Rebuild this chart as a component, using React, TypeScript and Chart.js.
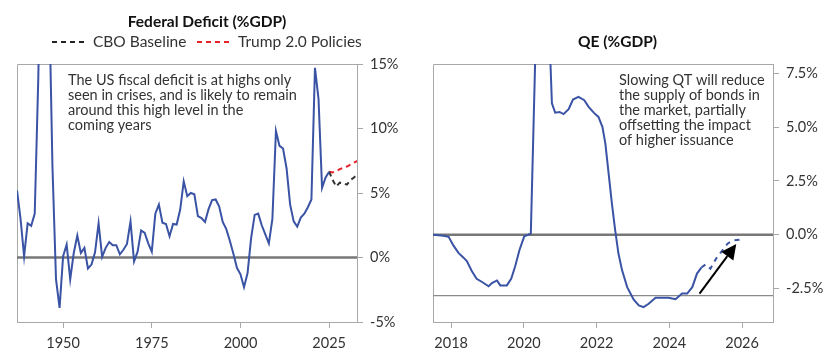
import React, { useEffect, useRef } from "react";
import { Chart, registerables } from "chart.js";

Chart.register(...registerables);

const FONT = "Lato, 'Noto Sans', sans-serif";
const BLUE = "#3a53a4";
const FRAME = "#a8a8a8";
const TEXT = "#333333";

// ---------------- Federal Deficit (%GDP) ----------------
const deficitYears: number[] = [];
for (let y = 1937; y <= 2025; y++) deficitYears.push(y);
const deficitValues = [
  5.2, 3.0, 0.1, 2.65, 2.45, 3.4, 13.9, 29.6, 22.2, 21.0, // 1937-1946
  7.0, -1.7, -3.9, 0.1, 1.0, -1.7, 0.35, 1.7, 0.35, 0.75, // 1947-1956
  -0.85, -0.55, 0.4, 2.65, 0.05, 0.75, 1.2, 0.95, 0.95, 0.25, // 1957-1966
  0.6, 1.05, 2.8, -0.3, 0.45, 2.1, 1.9, 1.1, 0.45, 3.4, // 1967-1976
  4.1, 2.7, 2.6, 1.65, 2.6, 2.55, 3.7, 5.9, 4.75, 5.0, // 1977-1986
  4.9, 3.2, 3.05, 2.75, 3.75, 4.45, 4.5, 3.95, 2.75, 2.2, // 1987-1996
  1.3, 0.3, -0.8, -1.3, -2.3, -1.2, 1.5, 3.3, 3.4, 2.5, // 1997-2006
  1.8, 1.1, 3.0, 9.8, 8.65, 8.45, 6.9, 4.1, 2.8, 2.4, // 2007-2016
  3.1, 3.4, 3.9, 4.5, 14.7, 12.3, 5.4, 6.2, 6.65, // 2017-2025
];
const projectionYears = [2025, 2026, 2027, 2028, 2029, 2030, 2031, 2032, 2033];
const cboBaseline = [6.65, 6.0, 5.5, 5.8, 5.75, 5.65, 6.0, 6.2, 6.5];
const trumpPolicies = [6.65, 6.6, 6.7, 6.85, 6.95, 7.05, 7.2, 7.35, 7.5];
const deficitTickValuesY = [-5, 0, 5, 10, 15];
const deficitTickValuesX = [1950, 1975, 2000, 2025];
const deficitNote = [
  "The US fiscal deficit is at highs only",
  "seen in crises, and is likely to remain",
  "around this high level in the",
  "coming years",
];

// ---------------- QE (%GDP) ----------------
const qeDates = [
  2017.5, 2017.79, 2017.93, 2018.06, 2018.2, 2018.34, 2018.43, 2018.57, 2018.7, 2018.85,
  2019.03, 2019.12, 2019.26, 2019.35, 2019.53, 2019.65, 2019.76, 2019.88, 2020.01, 2020.19,
  2020.42, 2020.6, 2020.77, 2020.86, 2020.98, 2021.09, 2021.23, 2021.35, 2021.5, 2021.66,
  2021.78, 2021.92, 2022.05, 2022.16, 2022.24, 2022.33, 2022.42, 2022.51, 2022.6, 2022.7,
  2022.84, 2023.02, 2023.16, 2023.29, 2023.43, 2023.62, 2023.8, 2023.98, 2024.17, 2024.35,
  2024.49, 2024.63, 2024.76, 2024.88,
];
const qeValues = [
  0.0, -0.05, -0.1, -0.5, -0.85, -1.07, -1.23, -1.7, -2.05, -2.2,
  -2.4, -2.25, -2.13, -2.36, -2.36, -2.05, -1.47, -0.7, -0.08, 0.05,
  15.5, 14.0, 6.1, 5.67, 5.7, 5.6, 5.83, 6.28, 6.4, 6.25,
  5.94, 5.67, 5.47, 5.0, 4.23, 2.84, 1.44, 0.2, -0.88, -1.66,
  -2.44, -3.02, -3.29, -3.37, -3.21, -2.93, -2.93, -2.93, -3.0, -2.74,
  -2.74, -2.44, -1.81, -1.53,
];
const qeProjDates = [2024.88, 2025.0, 2025.13, 2025.31, 2025.45, 2025.6, 2025.75, 2026.0];
const qeProjValues = [-1.53, -1.38, -1.58, -1.04, -0.75, -0.42, -0.27, -0.22];
const qeTickValuesY = [-2.5, 0, 2.5, 5, 7.5];
const qeTickValuesX = [2018, 2020, 2022, 2024, 2026];
const qeQtLevel = -2.83;
const qeArrowFrom: [number, number] = [2024.83, -2.74];
const qeArrowTo: [number, number] = [2025.84, -0.44];
const qeNote = [
  "Slowing QT will reduce",
  "the supply of bonds in",
  "the market, partially",
  "offsetting the impact",
  "of higher issuance",
];

type Decor = {
  title: string;
  titleX: number;
  titleY: number;
  legend?: { label: string; color: string; x: number }[];
  legendY?: number;
  notes: string[];
  noteX: number;
  noteY: number;
  refLines: { value: number; width: number; color: string }[];
  arrow?: { from: [number, number]; to: [number, number] };
};

function makeDecor(d: Decor) {
  return {
    id: "decor",
    beforeDatasetsDraw(chart: any) {
      const { ctx, chartArea: a, scales } = chart;
      ctx.save();
      ctx.strokeStyle = FRAME;
      ctx.lineWidth = 1;
      ctx.beginPath();
      ctx.moveTo(a.left + 0.5, a.bottom);
      ctx.lineTo(a.left + 0.5, a.top + 0.5);
      ctx.lineTo(a.right, a.top + 0.5);
      ctx.stroke();
      for (const r of d.refLines) {
        const py = scales.y.getPixelForValue(r.value);
        ctx.strokeStyle = r.color;
        ctx.lineWidth = r.width;
        ctx.beginPath();
        ctx.moveTo(a.left, py);
        ctx.lineTo(a.right, py);
        ctx.stroke();
      }
      ctx.restore();
    },
    afterDatasetsDraw(chart: any) {
      if (!d.arrow) return;
      const { ctx, scales } = chart;
      const x1 = scales.x.getPixelForValue(d.arrow.from[0]);
      const y1 = scales.y.getPixelForValue(d.arrow.from[1]);
      const x2 = scales.x.getPixelForValue(d.arrow.to[0]);
      const y2 = scales.y.getPixelForValue(d.arrow.to[1]);
      const ang = Math.atan2(y2 - y1, x2 - x1);
      const head = 15;
      const half = 7.5;
      const bx = x2 - head * Math.cos(ang);
      const by = y2 - head * Math.sin(ang);
      ctx.save();
      ctx.strokeStyle = "#000";
      ctx.fillStyle = "#000";
      ctx.lineWidth = 2;
      ctx.beginPath();
      ctx.moveTo(x1, y1);
      ctx.lineTo(bx, by);
      ctx.stroke();
      ctx.beginPath();
      ctx.moveTo(x2, y2);
      ctx.lineTo(bx + half * Math.sin(ang), by - half * Math.cos(ang));
      ctx.lineTo(bx - half * Math.sin(ang), by + half * Math.cos(ang));
      ctx.closePath();
      ctx.fill();
      ctx.restore();
    },
    afterDraw(chart: any) {
      const { ctx } = chart;
      ctx.save();
      ctx.textBaseline = "middle";
      ctx.fillStyle = "#111";
      ctx.font = `bold 15.5px ${FONT}`;
      ctx.textAlign = "center";
      ctx.fillText(d.title, d.titleX, d.titleY);
      if (d.legend) {
        ctx.font = `15.5px ${FONT}`;
        ctx.textAlign = "left";
        for (const item of d.legend) {
          ctx.strokeStyle = item.color;
          ctx.lineWidth = 2;
          ctx.setLineDash([5, 4]);
          ctx.beginPath();
          ctx.moveTo(item.x, d.legendY as number);
          ctx.lineTo(item.x + 35, d.legendY as number);
          ctx.stroke();
          ctx.setLineDash([]);
          ctx.fillStyle = TEXT;
          ctx.fillText(item.label, item.x + 41, d.legendY as number);
        }
      }
      ctx.font = `14.5px ${FONT}`;
      ctx.textAlign = "left";
      ctx.fillStyle = TEXT;
      d.notes.forEach((line, i) => ctx.fillText(line, d.noteX, d.noteY + i * 15));
      ctx.restore();
    },
  };
}

function axisCommon(tickVals: number[], fmt: (v: number) => string) {
  return {
    grid: { drawOnChartArea: false, color: FRAME, tickColor: FRAME, tickLength: 6 },
    border: { display: true, color: FRAME, width: 1 },
    ticks: {
      color: TEXT,
      font: { family: FONT, size: 14.5 },
      padding: 7,
      autoSkip: false,
      maxRotation: 0,
      callback: (v: any) => fmt(Number(v)),
    },
    afterBuildTicks: (scale: any) => {
      scale.ticks = tickVals.map((v) => ({ value: v }));
    },
  };
}

function deficitConfig(): any {
  return {
    type: "line",
    data: {
      datasets: [
        {
          label: "Federal deficit",
          data: deficitYears.map((x, i) => ({ x, y: deficitValues[i] })),
          borderColor: BLUE,
          borderWidth: 2,
          pointRadius: 0,
          tension: 0,
        },
        {
          label: "CBO Baseline",
          data: projectionYears.map((x, i) => ({ x, y: cboBaseline[i] })),
          borderColor: "#333333",
          borderWidth: 2,
          borderDash: [5, 4],
          pointRadius: 0,
        },
        {
          label: "Trump 2.0 Policies",
          data: projectionYears.map((x, i) => ({ x, y: trumpPolicies[i] })),
          borderColor: "#e8212b",
          borderWidth: 2,
          borderDash: [5, 4],
          pointRadius: 0,
        },
      ],
    },
    options: {
      responsive: false,
      animation: false,
      devicePixelRatio: 1,
      layout: { padding: { left: 17, top: 64, right: 0, bottom: 0 } },
      plugins: { legend: { display: false }, tooltip: { enabled: false }, title: { display: false } },
      scales: {
        x: {
          type: "linear",
          min: 1937,
          max: 2032.85,
          ...axisCommon(deficitTickValuesX, (v) => String(v)),
          afterFit: (s: any) => {
            s.height = 40;
          },
        },
        y: {
          type: "linear",
          position: "right",
          min: -5,
          max: 15,
          ...axisCommon(deficitTickValuesY, (v) => `${v}%`),
          afterFit: (s: any) => {
            s.width = 63;
          },
        },
      },
    },
    plugins: [
      makeDecor({
        title: "Federal Deficit (%GDP)",
        titleX: 207,
        titleY: 22,
        legend: [
          { label: "CBO Baseline", color: "#222222", x: 52 },
          { label: "Trump 2.0 Policies", color: "#e8212b", x: 197 },
        ],
        legendY: 42,
        notes: deficitNote,
        noteX: 68,
        noteY: 80,
        refLines: [{ value: 0, width: 2.5, color: "#777777" }],
      }),
    ],
  };
}

function qeConfig(): any {
  return {
    type: "line",
    data: {
      datasets: [
        {
          label: "QE",
          data: qeDates.map((x, i) => ({ x, y: qeValues[i] })),
          borderColor: BLUE,
          borderWidth: 2,
          pointRadius: 0,
          tension: 0,
        },
        {
          label: "QE projection",
          data: qeProjDates.map((x, i) => ({ x, y: qeProjValues[i] })),
          borderColor: BLUE,
          borderWidth: 2,
          borderDash: [5, 5],
          pointRadius: 0,
        },
      ],
    },
    options: {
      responsive: false,
      animation: false,
      devicePixelRatio: 1,
      layout: { padding: { left: 13, top: 64, right: 0, bottom: 0 } },
      plugins: { legend: { display: false }, tooltip: { enabled: false }, title: { display: false } },
      scales: {
        x: {
          type: "linear",
          min: 2017.5,
          max: 2026.85,
          ...axisCommon(qeTickValuesX, (v) => String(v)),
          afterFit: (s: any) => {
            s.height = 40;
          },
        },
        y: {
          type: "linear",
          position: "right",
          min: -4.06,
          max: 7.93,
          ...axisCommon(qeTickValuesY, (v) => `${v.toFixed(1)}%`),
          afterFit: (s: any) => {
            s.width = 67;
          },
        },
      },
    },
    plugins: [
      makeDecor({
        title: "QE (%GDP)",
        titleX: 197.5,
        titleY: 42,
        notes: qeNote,
        noteX: 199,
        noteY: 80,
        refLines: [
          { value: 0, width: 2.5, color: "#777777" },
          { value: qeQtLevel, width: 1.2, color: "#8a8a8a" },
        ],
        arrow: { from: qeArrowFrom, to: qeArrowTo },
      }),
    ],
  };
}

function ChartBox({ make, left }: { make: () => any; left: number }) {
  const ref = useRef<HTMLCanvasElement | null>(null);
  useEffect(() => {
    const chart = new Chart(ref.current as HTMLCanvasElement, make());
    return () => chart.destroy();
  }, []);
  return (
    <canvas
      ref={ref}
      width={420}
      height={362}
      style={{ position: "absolute", left, top: 0, width: 420, height: 362, display: "block" }}
    />
  );
}

export default function App() {
  return (
    <div style={{ position: "fixed", left: 0, top: 0, width: 840, height: 362, background: "#ffffff" }}>
      <ChartBox make={deficitConfig} left={0} />
      <ChartBox make={qeConfig} left={420} />
    </div>
  );
}
